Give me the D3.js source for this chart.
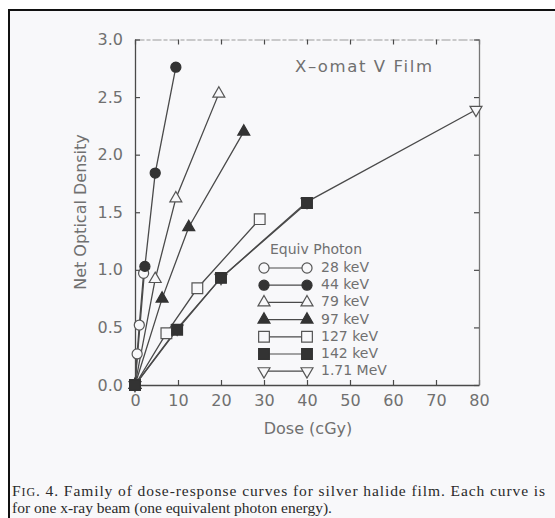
<!DOCTYPE html>
<html>
<head>
<meta charset="utf-8">
<script src="https://cdn.jsdelivr.net/npm/d3@7"></script>
<style>
  body { margin: 0; background: #fff; }
  svg { display: block; }
</style>
</head>
<body>
<div id="chart-area"></div>
<script>
// values (dose in cGy, net optical density)
var seriesNames = ['28 keV', '44 keV', '79 keV', '97 keV', '127 keV', '142 keV', '1.71 MeV'];
var dose28 = [0, 0.5, 1, 2];
var od28 = [0, 0.27, 0.52, 0.97];
var dose44 = [0, 2.3, 4.7, 9.5];
var od44 = [0, 1.03, 1.84, 2.76];
var dose79 = [0, 4.7, 9.5, 19.5];
var od79 = [0, 0.92, 1.62, 2.53];
var dose97 = [0, 6.3, 12.5, 25.3];
var od97 = [0, 0.75, 1.37, 2.2];
var dose127 = [0, 7.3, 14.5, 29];
var od127 = [0, 0.45, 0.84, 1.44];
var dose142 = [0, 9.8, 20, 40];
var od142 = [0, 0.48, 0.93, 1.58];
var dose171 = [0, 9.8, 20, 40, 79.3];
var od171 = [0, 0.49, 0.93, 1.59, 2.39];

var xTicks = [0, 10, 20, 30, 40, 50, 60, 70, 80];
var yTicks = [0, 0.5, 1, 1.5, 2, 2.5, 3];

var allDose = [dose28, dose44, dose79, dose97, dose127, dose142, dose171];
var allOd = [od28, od44, od79, od97, od127, od142, od171];
var symbols = ['circle-open', 'circle', 'tri-open', 'tri', 'square-open', 'square', 'itri-open'];

var W = 555, H = 518;
var bg = '#f8f8fa';
var ink = '#4a4a4a';
var textCol = '#707070';

var svg = d3.select('#chart-area')
    .append('svg')
    .attr('width', W)
    .attr('height', H);

// page scan background + frame lines
svg.append('rect')
    .attr('x', 9).attr('y', 10)
    .attr('width', W - 9).attr('height', H - 10)
    .attr('fill', bg);
svg.append('line')
    .attr('x1', 8).attr('x2', W).attr('y1', 10).attr('y2', 10)
    .attr('stroke', '#111').attr('stroke-width', 2);
svg.append('line')
    .attr('x1', 9).attr('x2', 9).attr('y1', 9).attr('y2', H)
    .attr('stroke', '#111').attr('stroke-width', 2);

var plotLeft = 135, plotRight = 479, plotTop = 39.5, plotBottom = 385;

var x = d3.scaleLinear().domain([0, 80]).range([plotLeft, plotRight]);
var y = d3.scaleLinear().domain([0, 3]).range([plotBottom, plotTop]);

var g = svg.append('g');

// axes (box with inward ticks)
var xAxisB = d3.axisBottom(x).tickValues(xTicks).tickSize(-5).tickSizeOuter(0).tickPadding(10)
    .tickFormat(d3.format('d'));
var xAxisT = d3.axisTop(x).tickValues(xTicks).tickSize(-5).tickSizeOuter(0).tickFormat('');
var yAxisL = d3.axisLeft(y).tickValues(yTicks).tickSize(-5).tickSizeOuter(0).tickPadding(12)
    .tickFormat(d3.format('.1f'));
var yAxisR = d3.axisRight(y).tickValues(yTicks).tickSize(-5).tickSizeOuter(0).tickFormat('');

g.append('g').attr('class', 'x-axis')
    .attr('transform', 'translate(0,' + plotBottom + ')').call(xAxisB);
g.append('g').attr('class', 'x-axis-top')
    .attr('transform', 'translate(0,' + plotTop + ')').call(xAxisT);
g.append('g').attr('class', 'y-axis')
    .attr('transform', 'translate(' + plotLeft + ',0)').call(yAxisL);
g.append('g').attr('class', 'y-axis-right')
    .attr('transform', 'translate(' + plotRight + ',0)').call(yAxisR);

g.selectAll('.domain').attr('stroke', ink).attr('stroke-width', 1.3);
g.select('.x-axis-top .domain').attr('stroke', '#999').attr('stroke-width', 1.1)
    .attr('stroke-dasharray', '9,2,4,2');
g.select('.y-axis-right .domain').attr('stroke', '#777');
g.selectAll('.tick line').attr('stroke', ink).attr('stroke-width', 1.2);
g.selectAll('.tick text')
    .attr('fill', textCol)
    .style('font-family', '"DejaVu Sans", sans-serif')
    .style('font-size', '16px');

// axis titles
svg.append('text')
    .attr('x', 308).attr('y', 429)
    .attr('text-anchor', 'middle').attr('dominant-baseline', 'middle')
    .attr('fill', textCol)
    .style('font-family', '"DejaVu Sans", sans-serif').style('font-size', '16px')
    .text('Dose (cGy)');
svg.append('text')
    .attr('transform', 'translate(81,212) rotate(-90)')
    .attr('text-anchor', 'middle').attr('dominant-baseline', 'middle')
    .attr('fill', textCol)
    .style('font-family', '"DejaVu Sans", sans-serif').style('font-size', '16px')
    .text('Net Optical Density');

svg.append('text')
    .attr('x', 295).attr('y', 67)
    .attr('dominant-baseline', 'middle')
    .attr('fill', textCol)
    .attr('textLength', 137)
    .style('font-family', '"DejaVu Sans", sans-serif').style('font-size', '16.5px')
    .text('X\u2013omat V Film');

// marker helper
function marker(sel, kind) {
    var type = d3.symbolCircle, size = 80, rot = 0;
    if (kind.indexOf('tri') === 0) { type = d3.symbolTriangle; size = 62; }
    if (kind.indexOf('itri') === 0) { type = d3.symbolTriangle; size = 62; rot = 180; }
    if (kind.indexOf('square') === 0) { type = d3.symbolSquare; size = 115; }
    var open = kind.indexOf('open') > -1;
    sel.attr('d', d3.symbol().type(type).size(size)())
        .attr('fill', open ? bg : '#333')
        .attr('stroke', open ? '#555' : '#333')
        .attr('stroke-width', 1.2)
        .attr('transform', function (d) {
            return 'translate(' + d[0] + ',' + d[1] + ') rotate(' + rot + ')';
        });
}

var line = d3.line()
    .x(function (d) { return x(d[0]); })
    .y(function (d) { return y(d[1]); });

var seriesData = allDose.map(function (ds, i) {
    return ds.map(function (d, j) { return [d, allOd[i][j]]; });
});

// lines
g.selectAll('path.curve')
    .data(seriesData)
    .enter()
    .append('path')
    .attr('class', 'curve')
    .attr('d', line)
    .attr('fill', 'none')
    .attr('stroke', ink)
    .attr('stroke-width', 1.3);

// markers: 1.71 MeV first so that overlapping squares sit on top
var order = [6, 0, 1, 2, 3, 4, 5];
order.forEach(function (i) {
    g.selectAll('path.m' + i)
        .data(seriesData[i].map(function (p) { return [x(p[0]), y(p[1])]; }))
        .enter()
        .append('path')
        .attr('class', 'm' + i)
        .call(marker, symbols[i]);
});

// legend
var legX1 = 264, legX2 = 307, legTextX = 321, legY0 = 268, legStep = 17.2;
svg.append('text')
    .attr('x', 270).attr('y', 250)
    .attr('dominant-baseline', 'middle')
    .attr('fill', textCol)
    .style('font-family', '"DejaVu Sans", sans-serif').style('font-size', '14px')
    .text('Equiv Photon');

var leg = svg.selectAll('g.leg')
    .data(seriesNames)
    .enter()
    .append('g')
    .attr('class', 'leg')
    .attr('transform', function (d, i) { return 'translate(0,' + (legY0 + i * legStep) + ')'; });

leg.append('line')
    .attr('x1', legX1).attr('x2', legX2)
    .attr('stroke', ink).attr('stroke-width', 1.2);
leg.each(function (d, i) {
    d3.select(this).selectAll('path')
        .data([[legX1, 0], [legX2, 0]])
        .enter()
        .append('path')
        .call(marker, symbols[i]);
});
leg.append('text')
    .attr('x', legTextX)
    .attr('dominant-baseline', 'middle')
    .attr('fill', textCol)
    .style('font-family', '"DejaVu Sans", sans-serif').style('font-size', '14px')
    .text(function (d) { return d; });

// caption
var cap = svg.append('g')
    .style('font-family', '"Liberation Serif", "Times New Roman", serif')
    .style('font-size', '15.5px')
    .attr('fill', '#2a2a2a');
var c1 = cap.append('text').attr('x', 12).attr('y', 496).attr('textLength', 533);
c1.append('tspan').text('F');
c1.append('tspan').style('font-size', '12px').text('IG');
c1.append('tspan').text('. 4. Family of dose-response curves for silver halide film. Each curve is');
cap.append('text').attr('x', 12).attr('y', 513)
    .text('for one x-ray beam (one equivalent photon energy).');
</script>
</body>
</html>
